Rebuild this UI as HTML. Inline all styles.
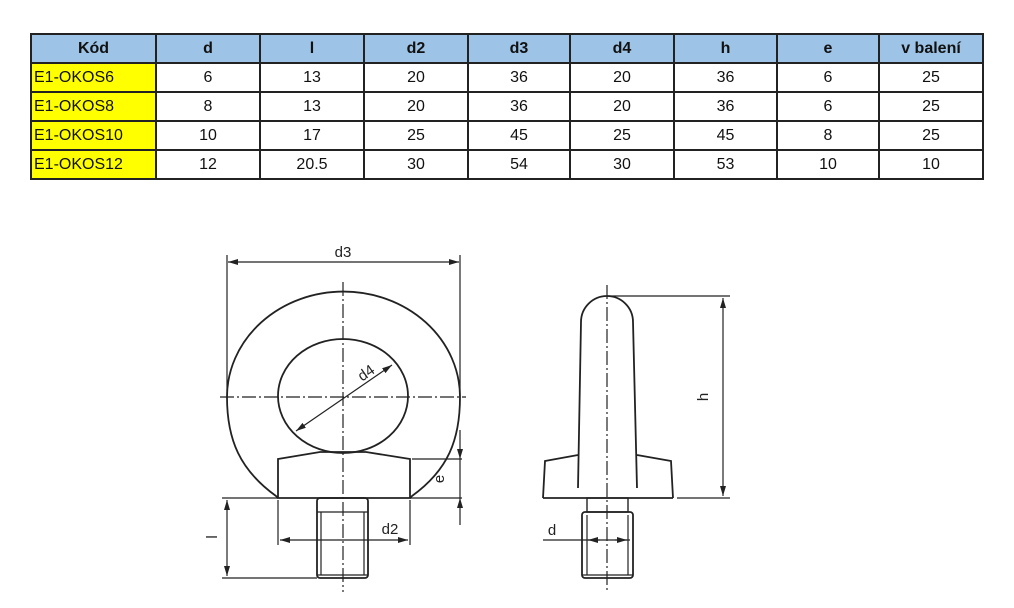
<!DOCTYPE html>
<html><head><meta charset="utf-8"><style>
body{margin:0;width:1014px;height:608px;background:#fff;overflow:hidden;position:relative;font-family:"Liberation Sans",sans-serif}
table{position:absolute;left:30px;top:33px;border-collapse:collapse;table-layout:fixed}
td{border:2px solid #222;height:27px;padding:0;text-align:center;font-size:16px;color:#111}
tr.h td{background:#9dc3e6;font-weight:bold;height:27px}
td.y{background:#ffff00;text-align:left;padding-left:2px}
svg{position:absolute;left:0;top:0}
</style></head><body>
<table>
<colgroup><col style="width:125px"><col style="width:104px"><col style="width:104px"><col style="width:104px"><col style="width:102px"><col style="width:104px"><col style="width:103px"><col style="width:102px"><col style="width:104px"></colgroup>
<tr class="h"><td>Kód</td><td>d</td><td>l</td><td>d2</td><td>d3</td><td>d4</td><td>h</td><td>e</td><td>v balení</td></tr>
<tr><td class="y">E1-OKOS6</td><td>6</td><td>13</td><td>20</td><td>36</td><td>20</td><td>36</td><td>6</td><td>25</td></tr>
<tr><td class="y">E1-OKOS8</td><td>8</td><td>13</td><td>20</td><td>36</td><td>20</td><td>36</td><td>6</td><td>25</td></tr>
<tr><td class="y">E1-OKOS10</td><td>10</td><td>17</td><td>25</td><td>45</td><td>25</td><td>45</td><td>8</td><td>25</td></tr>
<tr><td class="y">E1-OKOS12</td><td>12</td><td>20.5</td><td>30</td><td>54</td><td>30</td><td>53</td><td>10</td><td>10</td></tr>
</table>
<svg width="1014" height="608" viewBox="0 0 1014 608" fill="none" stroke="#222" stroke-width="1.8" font-family="Liberation Sans,sans-serif">
<defs><marker id="a" markerWidth="10" markerHeight="6" refX="10" refY="3" orient="auto-start-reverse" markerUnits="userSpaceOnUse"><path d="M0,0L10,3L0,6z" fill="#222" stroke="none"/></marker></defs>
<!-- front view -->
<line x1="227" y1="255" x2="227" y2="398" stroke-width="1.2"/>
<line x1="460" y1="255" x2="460" y2="398" stroke-width="1.2"/>
<line x1="228" y1="262" x2="459" y2="262" stroke-width="1.2" marker-start="url(#a)" marker-end="url(#a)"/>
<path d="M227,397 A116,105 0 0 1 460,397 C460,440 448,470 412,496 L410,498 M227,397 C227,440 240,470 276,496 L278,498"/>
<ellipse cx="343" cy="396" rx="65" ry="57"/>
<path d="M278,459 L320,452 L366,452 L410,459 L410,498 L278,498 Z"/>
<rect x="317" y="498" width="51" height="80" rx="3"/>
<line x1="321" y1="512" x2="321" y2="575" stroke-width="1.2"/><line x1="364" y1="512" x2="364" y2="575" stroke-width="1.2"/>
<line x1="317" y1="512" x2="368" y2="512" stroke-width="1.2"/><line x1="317" y1="575" x2="368" y2="575" stroke-width="1.2"/>
<line x1="343" y1="282" x2="343" y2="592" stroke-width="1.2" stroke-dasharray="14,3,2,3"/>
<line x1="220" y1="397" x2="466" y2="397" stroke-width="1.2" stroke-dasharray="14,3,2,3"/>
<line x1="296" y1="431" x2="392" y2="365" stroke-width="1.2" marker-start="url(#a)" marker-end="url(#a)"/>
<line x1="222" y1="498" x2="278" y2="498" stroke-width="1.2"/><line x1="410" y1="498" x2="462" y2="498" stroke-width="1.2"/>
<line x1="412" y1="459" x2="462" y2="459" stroke-width="1.2"/>
<line x1="460" y1="430" x2="460" y2="459" stroke-width="1.2" marker-end="url(#a)"/>
<line x1="460" y1="525" x2="460" y2="498" stroke-width="1.2" marker-end="url(#a)"/>
<line x1="460" y1="459" x2="460" y2="498" stroke-width="1.2"/>
<line x1="278" y1="500" x2="278" y2="545" stroke-width="1.2"/><line x1="410" y1="500" x2="410" y2="545" stroke-width="1.2"/>
<line x1="280" y1="540" x2="408" y2="540" stroke-width="1.2" marker-start="url(#a)" marker-end="url(#a)"/>
<line x1="222" y1="578" x2="317" y2="578" stroke-width="1.2"/>
<line x1="227" y1="500" x2="227" y2="576" stroke-width="1.2" marker-start="url(#a)" marker-end="url(#a)"/>
<g fill="#222" stroke="none" font-size="15">
<text x="343" y="257" text-anchor="middle">d3</text>
<text x="390" y="534" text-anchor="middle">d2</text>
<text transform="translate(369,377) rotate(-35)" text-anchor="middle">d4</text>
<text transform="translate(444,479) rotate(-90)" text-anchor="middle">e</text>
<text transform="translate(217,537) rotate(-90)" text-anchor="middle">l</text>
<text transform="translate(708,397) rotate(-90)" text-anchor="middle">h</text>
<text x="552" y="535" text-anchor="middle">d</text>
</g>
<!-- side view -->
<path d="M578,488 L581,322 A26,26 0 0 1 633,322 L637,488"/>
<path d="M543,498 L545,461 L578,455"/>
<path d="M637,455 L671,461 L673,498"/>
<line x1="543" y1="498" x2="673" y2="498"/>
<rect x="587" y="498" width="41" height="14" fill="none" stroke-width="1.4"/>
<rect x="582" y="512" width="51" height="66" rx="3"/>
<line x1="587" y1="515" x2="587" y2="575" stroke-width="1.2"/><line x1="628" y1="515" x2="628" y2="575" stroke-width="1.2"/>
<line x1="582" y1="575" x2="633" y2="575" stroke-width="1.2"/>
<line x1="607" y1="285" x2="607" y2="590" stroke-width="1.2" stroke-dasharray="14,3,2,3"/>
<line x1="607" y1="296" x2="730" y2="296" stroke-width="1.2"/>
<line x1="677" y1="498" x2="730" y2="498" stroke-width="1.2"/>
<line x1="723" y1="298" x2="723" y2="496" stroke-width="1.2" marker-start="url(#a)" marker-end="url(#a)"/>
<line x1="543" y1="540" x2="630" y2="540" stroke-width="1.2"/>
<line x1="600" y1="540" x2="588" y2="540" stroke-width="1.2" marker-end="url(#a)"/>
<line x1="615" y1="540" x2="627" y2="540" stroke-width="1.2" marker-end="url(#a)"/>
</svg>
</body></html>
